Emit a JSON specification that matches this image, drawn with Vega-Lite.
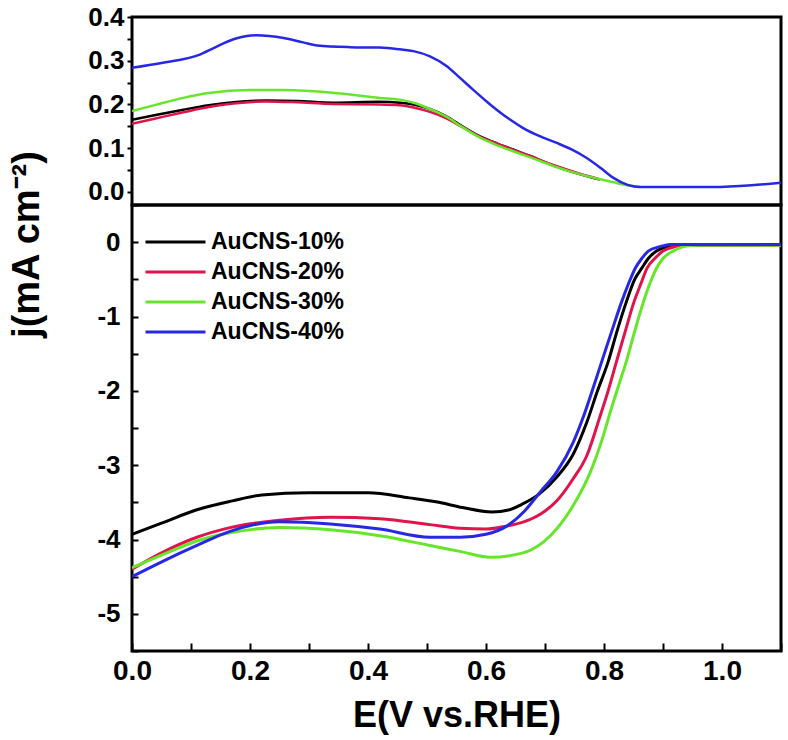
{
  "$schema": "https://vega.github.io/schema/vega-lite/v6.json",
  "padding": {"left": 6, "top": 2, "right": 5, "bottom": 2},
  "spacing": 0,
  "bounds": "flush",
  "background": "white",
  "config": {
    "view": {"stroke": "black", "strokeWidth": 3},
    "font": "Liberation Sans",
    "axis": {"domain": false, "grid": false, "labelFlush": false, "labelFont": "Liberation Sans", "labelFontWeight": "bold", "labelColor": "black", "tickColor": "black", "tickWidth": 2, "titleFont": "Liberation Sans", "titleFontWeight": "bold", "titleColor": "black"},
    "legend": {"labelFont": "Liberation Sans", "labelFontWeight": "bold", "labelColor": "black"}
  },
  "resolve": {"legend": {"color": "independent"}},
  "datasets": {
    "top": [
      {"E": 0, "j": 0.165, "sample": "AuCNS-10%"}, {"E": 0.04, "j": 0.176, "sample": "AuCNS-10%"}, {"E": 0.087, "j": 0.188, "sample": "AuCNS-10%"}, {"E": 0.13, "j": 0.198, "sample": "AuCNS-10%"}, {"E": 0.172, "j": 0.205, "sample": "AuCNS-10%"}, {"E": 0.228, "j": 0.209, "sample": "AuCNS-10%"}, {"E": 0.28, "j": 0.208, "sample": "AuCNS-10%"}, {"E": 0.34, "j": 0.204, "sample": "AuCNS-10%"}, {"E": 0.42, "j": 0.206, "sample": "AuCNS-10%"}, {"E": 0.454, "j": 0.204, "sample": "AuCNS-10%"}, {"E": 0.477, "j": 0.2, "sample": "AuCNS-10%"}, {"E": 0.505, "j": 0.19, "sample": "AuCNS-10%"}, {"E": 0.533, "j": 0.173, "sample": "AuCNS-10%"}, {"E": 0.56, "j": 0.15, "sample": "AuCNS-10%"}, {"E": 0.59, "j": 0.127, "sample": "AuCNS-10%"}, {"E": 0.62, "j": 0.11, "sample": "AuCNS-10%"}, {"E": 0.646, "j": 0.097, "sample": "AuCNS-10%"}, {"E": 0.675, "j": 0.082, "sample": "AuCNS-10%"}, {"E": 0.703, "j": 0.066, "sample": "AuCNS-10%"}, {"E": 0.73, "j": 0.053, "sample": "AuCNS-10%"}, {"E": 0.76, "j": 0.04, "sample": "AuCNS-10%"}, {"E": 0.793, "j": 0.028, "sample": "AuCNS-10%"},
      {"E": 0, "j": 0.156, "sample": "AuCNS-20%"}, {"E": 0.04, "j": 0.168, "sample": "AuCNS-20%"}, {"E": 0.087, "j": 0.182, "sample": "AuCNS-20%"}, {"E": 0.13, "j": 0.194, "sample": "AuCNS-20%"}, {"E": 0.172, "j": 0.202, "sample": "AuCNS-20%"}, {"E": 0.228, "j": 0.207, "sample": "AuCNS-20%"}, {"E": 0.28, "j": 0.205, "sample": "AuCNS-20%"}, {"E": 0.34, "j": 0.201, "sample": "AuCNS-20%"}, {"E": 0.42, "j": 0.2, "sample": "AuCNS-20%"}, {"E": 0.454, "j": 0.198, "sample": "AuCNS-20%"}, {"E": 0.477, "j": 0.193, "sample": "AuCNS-20%"}, {"E": 0.505, "j": 0.183, "sample": "AuCNS-20%"}, {"E": 0.533, "j": 0.168, "sample": "AuCNS-20%"}, {"E": 0.56, "j": 0.148, "sample": "AuCNS-20%"}, {"E": 0.59, "j": 0.126, "sample": "AuCNS-20%"}, {"E": 0.62, "j": 0.11, "sample": "AuCNS-20%"}, {"E": 0.646, "j": 0.096, "sample": "AuCNS-20%"}, {"E": 0.675, "j": 0.082, "sample": "AuCNS-20%"}, {"E": 0.703, "j": 0.067, "sample": "AuCNS-20%"}, {"E": 0.73, "j": 0.054, "sample": "AuCNS-20%"}, {"E": 0.76, "j": 0.041, "sample": "AuCNS-20%"}, {"E": 0.79, "j": 0.03, "sample": "AuCNS-20%"},
      {"E": 0, "j": 0.185, "sample": "AuCNS-30%"}, {"E": 0.04, "j": 0.199, "sample": "AuCNS-30%"}, {"E": 0.087, "j": 0.215, "sample": "AuCNS-30%"}, {"E": 0.13, "j": 0.226, "sample": "AuCNS-30%"}, {"E": 0.2, "j": 0.233, "sample": "AuCNS-30%"}, {"E": 0.257, "j": 0.233, "sample": "AuCNS-30%"}, {"E": 0.34, "j": 0.227, "sample": "AuCNS-30%"}, {"E": 0.42, "j": 0.215, "sample": "AuCNS-30%"}, {"E": 0.454, "j": 0.211, "sample": "AuCNS-30%"}, {"E": 0.477, "j": 0.204, "sample": "AuCNS-30%"}, {"E": 0.505, "j": 0.19, "sample": "AuCNS-30%"}, {"E": 0.533, "j": 0.172, "sample": "AuCNS-30%"}, {"E": 0.56, "j": 0.148, "sample": "AuCNS-30%"}, {"E": 0.59, "j": 0.124, "sample": "AuCNS-30%"}, {"E": 0.62, "j": 0.106, "sample": "AuCNS-30%"}, {"E": 0.646, "j": 0.093, "sample": "AuCNS-30%"}, {"E": 0.675, "j": 0.079, "sample": "AuCNS-30%"}, {"E": 0.703, "j": 0.065, "sample": "AuCNS-30%"}, {"E": 0.73, "j": 0.052, "sample": "AuCNS-30%"}, {"E": 0.76, "j": 0.04, "sample": "AuCNS-30%"}, {"E": 0.79, "j": 0.03, "sample": "AuCNS-30%"}, {"E": 0.816, "j": 0.022, "sample": "AuCNS-30%"}, {"E": 0.84, "j": 0.015, "sample": "AuCNS-30%"}, {"E": 0.861, "j": 0.011, "sample": "AuCNS-30%"},
      {"E": 0, "j": 0.284, "sample": "AuCNS-40%"}, {"E": 0.05, "j": 0.295, "sample": "AuCNS-40%"}, {"E": 0.115, "j": 0.314, "sample": "AuCNS-40%"}, {"E": 0.14, "j": 0.33, "sample": "AuCNS-40%"}, {"E": 0.172, "j": 0.349, "sample": "AuCNS-40%"}, {"E": 0.21, "j": 0.358, "sample": "AuCNS-40%"}, {"E": 0.257, "j": 0.352, "sample": "AuCNS-40%"}, {"E": 0.29, "j": 0.342, "sample": "AuCNS-40%"}, {"E": 0.314, "j": 0.335, "sample": "AuCNS-40%"}, {"E": 0.37, "j": 0.331, "sample": "AuCNS-40%"}, {"E": 0.42, "j": 0.33, "sample": "AuCNS-40%"}, {"E": 0.454, "j": 0.326, "sample": "AuCNS-40%"}, {"E": 0.477, "j": 0.322, "sample": "AuCNS-40%"}, {"E": 0.505, "j": 0.31, "sample": "AuCNS-40%"}, {"E": 0.533, "j": 0.288, "sample": "AuCNS-40%"}, {"E": 0.555, "j": 0.262, "sample": "AuCNS-40%"}, {"E": 0.578, "j": 0.234, "sample": "AuCNS-40%"}, {"E": 0.6, "j": 0.208, "sample": "AuCNS-40%"}, {"E": 0.618, "j": 0.188, "sample": "AuCNS-40%"}, {"E": 0.64, "j": 0.166, "sample": "AuCNS-40%"}, {"E": 0.663, "j": 0.146, "sample": "AuCNS-40%"}, {"E": 0.69, "j": 0.128, "sample": "AuCNS-40%"}, {"E": 0.72, "j": 0.112, "sample": "AuCNS-40%"}, {"E": 0.745, "j": 0.097, "sample": "AuCNS-40%"}, {"E": 0.77, "j": 0.078, "sample": "AuCNS-40%"}, {"E": 0.795, "j": 0.054, "sample": "AuCNS-40%"}, {"E": 0.816, "j": 0.032, "sample": "AuCNS-40%"}, {"E": 0.84, "j": 0.016, "sample": "AuCNS-40%"}, {"E": 0.861, "j": 0.011, "sample": "AuCNS-40%"}, {"E": 0.9, "j": 0.011, "sample": "AuCNS-40%"}, {"E": 0.985, "j": 0.011, "sample": "AuCNS-40%"}, {"E": 1.05, "j": 0.015, "sample": "AuCNS-40%"}, {"E": 1.1, "j": 0.021, "sample": "AuCNS-40%"}
    ],
    "bottom": [
      {"E": 0, "j": -3.93, "sample": "AuCNS-10%"}, {"E": 0.05, "j": -3.78, "sample": "AuCNS-10%"}, {"E": 0.11, "j": -3.6, "sample": "AuCNS-10%"}, {"E": 0.17, "j": -3.48, "sample": "AuCNS-10%"}, {"E": 0.22, "j": -3.4, "sample": "AuCNS-10%"}, {"E": 0.3, "j": -3.37, "sample": "AuCNS-10%"}, {"E": 0.4, "j": -3.37, "sample": "AuCNS-10%"}, {"E": 0.47, "j": -3.44, "sample": "AuCNS-10%"}, {"E": 0.52, "j": -3.5, "sample": "AuCNS-10%"}, {"E": 0.56, "j": -3.57, "sample": "AuCNS-10%"}, {"E": 0.61, "j": -3.63, "sample": "AuCNS-10%"}, {"E": 0.64, "j": -3.6, "sample": "AuCNS-10%"}, {"E": 0.66, "j": -3.53, "sample": "AuCNS-10%"}, {"E": 0.69, "j": -3.39, "sample": "AuCNS-10%"}, {"E": 0.72, "j": -3.16, "sample": "AuCNS-10%"}, {"E": 0.748, "j": -2.85, "sample": "AuCNS-10%"}, {"E": 0.771, "j": -2.42, "sample": "AuCNS-10%"}, {"E": 0.789, "j": -2.0, "sample": "AuCNS-10%"}, {"E": 0.807, "j": -1.61, "sample": "AuCNS-10%"}, {"E": 0.822, "j": -1.2, "sample": "AuCNS-10%"}, {"E": 0.838, "j": -0.8, "sample": "AuCNS-10%"}, {"E": 0.852, "j": -0.5, "sample": "AuCNS-10%"}, {"E": 0.864, "j": -0.35, "sample": "AuCNS-10%"}, {"E": 0.875, "j": -0.22, "sample": "AuCNS-10%"}, {"E": 0.889, "j": -0.12, "sample": "AuCNS-10%"}, {"E": 0.91, "j": -0.06, "sample": "AuCNS-10%"}, {"E": 0.93, "j": -0.04, "sample": "AuCNS-10%"}, {"E": 1.0, "j": -0.04, "sample": "AuCNS-10%"}, {"E": 1.1, "j": -0.03, "sample": "AuCNS-10%"},
      {"E": 0, "j": -4.4, "sample": "AuCNS-20%"}, {"E": 0.05, "j": -4.18, "sample": "AuCNS-20%"}, {"E": 0.11, "j": -3.97, "sample": "AuCNS-20%"}, {"E": 0.166, "j": -3.84, "sample": "AuCNS-20%"}, {"E": 0.25, "j": -3.74, "sample": "AuCNS-20%"}, {"E": 0.336, "j": -3.7, "sample": "AuCNS-20%"}, {"E": 0.42, "j": -3.72, "sample": "AuCNS-20%"}, {"E": 0.505, "j": -3.8, "sample": "AuCNS-20%"}, {"E": 0.556, "j": -3.85, "sample": "AuCNS-20%"}, {"E": 0.6, "j": -3.86, "sample": "AuCNS-20%"}, {"E": 0.635, "j": -3.82, "sample": "AuCNS-20%"}, {"E": 0.665, "j": -3.76, "sample": "AuCNS-20%"}, {"E": 0.692, "j": -3.66, "sample": "AuCNS-20%"}, {"E": 0.72, "j": -3.48, "sample": "AuCNS-20%"}, {"E": 0.748, "j": -3.18, "sample": "AuCNS-20%"}, {"E": 0.771, "j": -2.87, "sample": "AuCNS-20%"}, {"E": 0.793, "j": -2.35, "sample": "AuCNS-20%"}, {"E": 0.807, "j": -2.0, "sample": "AuCNS-20%"}, {"E": 0.821, "j": -1.61, "sample": "AuCNS-20%"}, {"E": 0.836, "j": -1.2, "sample": "AuCNS-20%"}, {"E": 0.851, "j": -0.8, "sample": "AuCNS-20%"}, {"E": 0.863, "j": -0.55, "sample": "AuCNS-20%"}, {"E": 0.873, "j": -0.35, "sample": "AuCNS-20%"}, {"E": 0.886, "j": -0.22, "sample": "AuCNS-20%"}, {"E": 0.9, "j": -0.12, "sample": "AuCNS-20%"}, {"E": 0.92, "j": -0.06, "sample": "AuCNS-20%"}, {"E": 0.94, "j": -0.04, "sample": "AuCNS-20%"}, {"E": 1.1, "j": -0.04, "sample": "AuCNS-20%"},
      {"E": 0, "j": -4.38, "sample": "AuCNS-30%"}, {"E": 0.053, "j": -4.2, "sample": "AuCNS-30%"}, {"E": 0.11, "j": -4.02, "sample": "AuCNS-30%"}, {"E": 0.166, "j": -3.91, "sample": "AuCNS-30%"}, {"E": 0.25, "j": -3.84, "sample": "AuCNS-30%"}, {"E": 0.336, "j": -3.87, "sample": "AuCNS-30%"}, {"E": 0.42, "j": -3.95, "sample": "AuCNS-30%"}, {"E": 0.505, "j": -4.08, "sample": "AuCNS-30%"}, {"E": 0.556, "j": -4.16, "sample": "AuCNS-30%"}, {"E": 0.607, "j": -4.24, "sample": "AuCNS-30%"}, {"E": 0.663, "j": -4.18, "sample": "AuCNS-30%"}, {"E": 0.709, "j": -3.95, "sample": "AuCNS-30%"}, {"E": 0.748, "j": -3.54, "sample": "AuCNS-30%"}, {"E": 0.777, "j": -3.09, "sample": "AuCNS-30%"}, {"E": 0.797, "j": -2.65, "sample": "AuCNS-30%"}, {"E": 0.812, "j": -2.25, "sample": "AuCNS-30%"}, {"E": 0.826, "j": -1.9, "sample": "AuCNS-30%"}, {"E": 0.838, "j": -1.6, "sample": "AuCNS-30%"}, {"E": 0.852, "j": -1.2, "sample": "AuCNS-30%"}, {"E": 0.867, "j": -0.8, "sample": "AuCNS-30%"}, {"E": 0.878, "j": -0.55, "sample": "AuCNS-30%"}, {"E": 0.889, "j": -0.35, "sample": "AuCNS-30%"}, {"E": 0.9, "j": -0.22, "sample": "AuCNS-30%"}, {"E": 0.917, "j": -0.12, "sample": "AuCNS-30%"}, {"E": 0.935, "j": -0.06, "sample": "AuCNS-30%"}, {"E": 0.957, "j": -0.04, "sample": "AuCNS-30%"}, {"E": 1.1, "j": -0.04, "sample": "AuCNS-30%"},
      {"E": 0, "j": -4.5, "sample": "AuCNS-40%"}, {"E": 0.053, "j": -4.29, "sample": "AuCNS-40%"}, {"E": 0.11, "j": -4.08, "sample": "AuCNS-40%"}, {"E": 0.166, "j": -3.89, "sample": "AuCNS-40%"}, {"E": 0.25, "j": -3.76, "sample": "AuCNS-40%"}, {"E": 0.336, "j": -3.79, "sample": "AuCNS-40%"}, {"E": 0.42, "j": -3.86, "sample": "AuCNS-40%"}, {"E": 0.505, "j": -3.97, "sample": "AuCNS-40%"}, {"E": 0.556, "j": -3.97, "sample": "AuCNS-40%"}, {"E": 0.6, "j": -3.93, "sample": "AuCNS-40%"}, {"E": 0.635, "j": -3.82, "sample": "AuCNS-40%"}, {"E": 0.665, "j": -3.62, "sample": "AuCNS-40%"}, {"E": 0.692, "j": -3.36, "sample": "AuCNS-40%"}, {"E": 0.72, "j": -3.09, "sample": "AuCNS-40%"}, {"E": 0.748, "j": -2.69, "sample": "AuCNS-40%"}, {"E": 0.765, "j": -2.35, "sample": "AuCNS-40%"}, {"E": 0.78, "j": -2.0, "sample": "AuCNS-40%"}, {"E": 0.796, "j": -1.61, "sample": "AuCNS-40%"}, {"E": 0.813, "j": -1.2, "sample": "AuCNS-40%"}, {"E": 0.83, "j": -0.8, "sample": "AuCNS-40%"}, {"E": 0.842, "j": -0.55, "sample": "AuCNS-40%"}, {"E": 0.853, "j": -0.35, "sample": "AuCNS-40%"}, {"E": 0.864, "j": -0.22, "sample": "AuCNS-40%"}, {"E": 0.875, "j": -0.12, "sample": "AuCNS-40%"}, {"E": 0.895, "j": -0.06, "sample": "AuCNS-40%"}, {"E": 0.912, "j": -0.03, "sample": "AuCNS-40%"}, {"E": 1.1, "j": -0.03, "sample": "AuCNS-40%"}
    ]
  },
  "vconcat": [
    {
      "width": 649,
      "height": 188,
      "data": {"name": "top"},
      "mark": {"type": "line", "strokeWidth": 2.5, "clip": true, "interpolate": "monotone"},
      "encoding": {
        "x": {"field": "E", "type": "quantitative", "scale": {"domain": [0, 1.1], "nice": false, "zero": false}, "axis": null},
        "y": {"field": "j", "type": "quantitative", "scale": {"domain": [-0.03, 0.4], "nice": false, "zero": false},
          "axis": {"title": null, "values": [0, 0.05, 0.1, 0.15, 0.2, 0.25, 0.3, 0.35, 0.4], "labelExpr": "round(datum.value*100) % 10 == 0 ? format(datum.value, '.1f') : ''", "labelFontSize": 26, "labelPadding": 3, "tickSize": 5}},
        "color": {"field": "sample", "type": "nominal", "scale": {"domain": ["AuCNS-10%", "AuCNS-20%", "AuCNS-30%", "AuCNS-40%"], "range": ["#000000", "#e0144a", "#66e62a", "#2727e6"]}, "legend": null}
      }
    },
    {
      "width": 649,
      "height": 446,
      "data": {"name": "bottom"},
      "mark": {"type": "line", "strokeWidth": 3, "clip": true, "interpolate": "monotone"},
      "encoding": {
        "x": {"field": "E", "type": "quantitative", "scale": {"domain": [0, 1.1], "nice": false, "zero": false},
          "axis": {"title": "E(V vs.RHE)", "titleFontSize": 36, "titlePadding": 13, "values": [0, 0.1, 0.2, 0.3, 0.4, 0.5, 0.6, 0.7, 0.8, 0.9, 1.0, 1.1], "labelExpr": "round(datum.value*10) % 2 == 0 && datum.value < 1.05 ? format(datum.value, '.1f') : ''", "labelFontSize": 28, "labelPadding": 14, "tickSize": -8}},
        "y": {"field": "j", "type": "quantitative", "scale": {"domain": [-5.5, 0.5], "nice": false, "zero": false},
          "axis": {"title": "j(mA cm⁻²)", "titleFontSize": 38, "titleAngle": -90, "titleX": -94, "titleY": 39, "titleAlign": "center", "titleBaseline": "alphabetic",
            "values": [-5.5, -5, -4.5, -4, -3.5, -3, -2.5, -2, -1.5, -1, -0.5, 0, 0.5], "labelExpr": "round(datum.value*2) % 2 == 0 ? '' + datum.value : ''", "labelFontSize": 26, "labelPadding": 18, "tickSize": -6}},
        "color": {"field": "sample", "type": "nominal", "scale": {"domain": ["AuCNS-10%", "AuCNS-20%", "AuCNS-30%", "AuCNS-40%"], "range": ["#000000", "#e0144a", "#66e62a", "#2727e6"]},
          "legend": {"title": null, "orient": "none", "legendX": 12, "legendY": 22, "symbolType": "stroke", "symbolSize": 3600, "symbolStrokeWidth": 3, "clipHeight": 30, "rowPadding": 0, "labelFontSize": 23, "labelOffset": 4, "labelLimit": 300}}
      }
    }
  ]
}
